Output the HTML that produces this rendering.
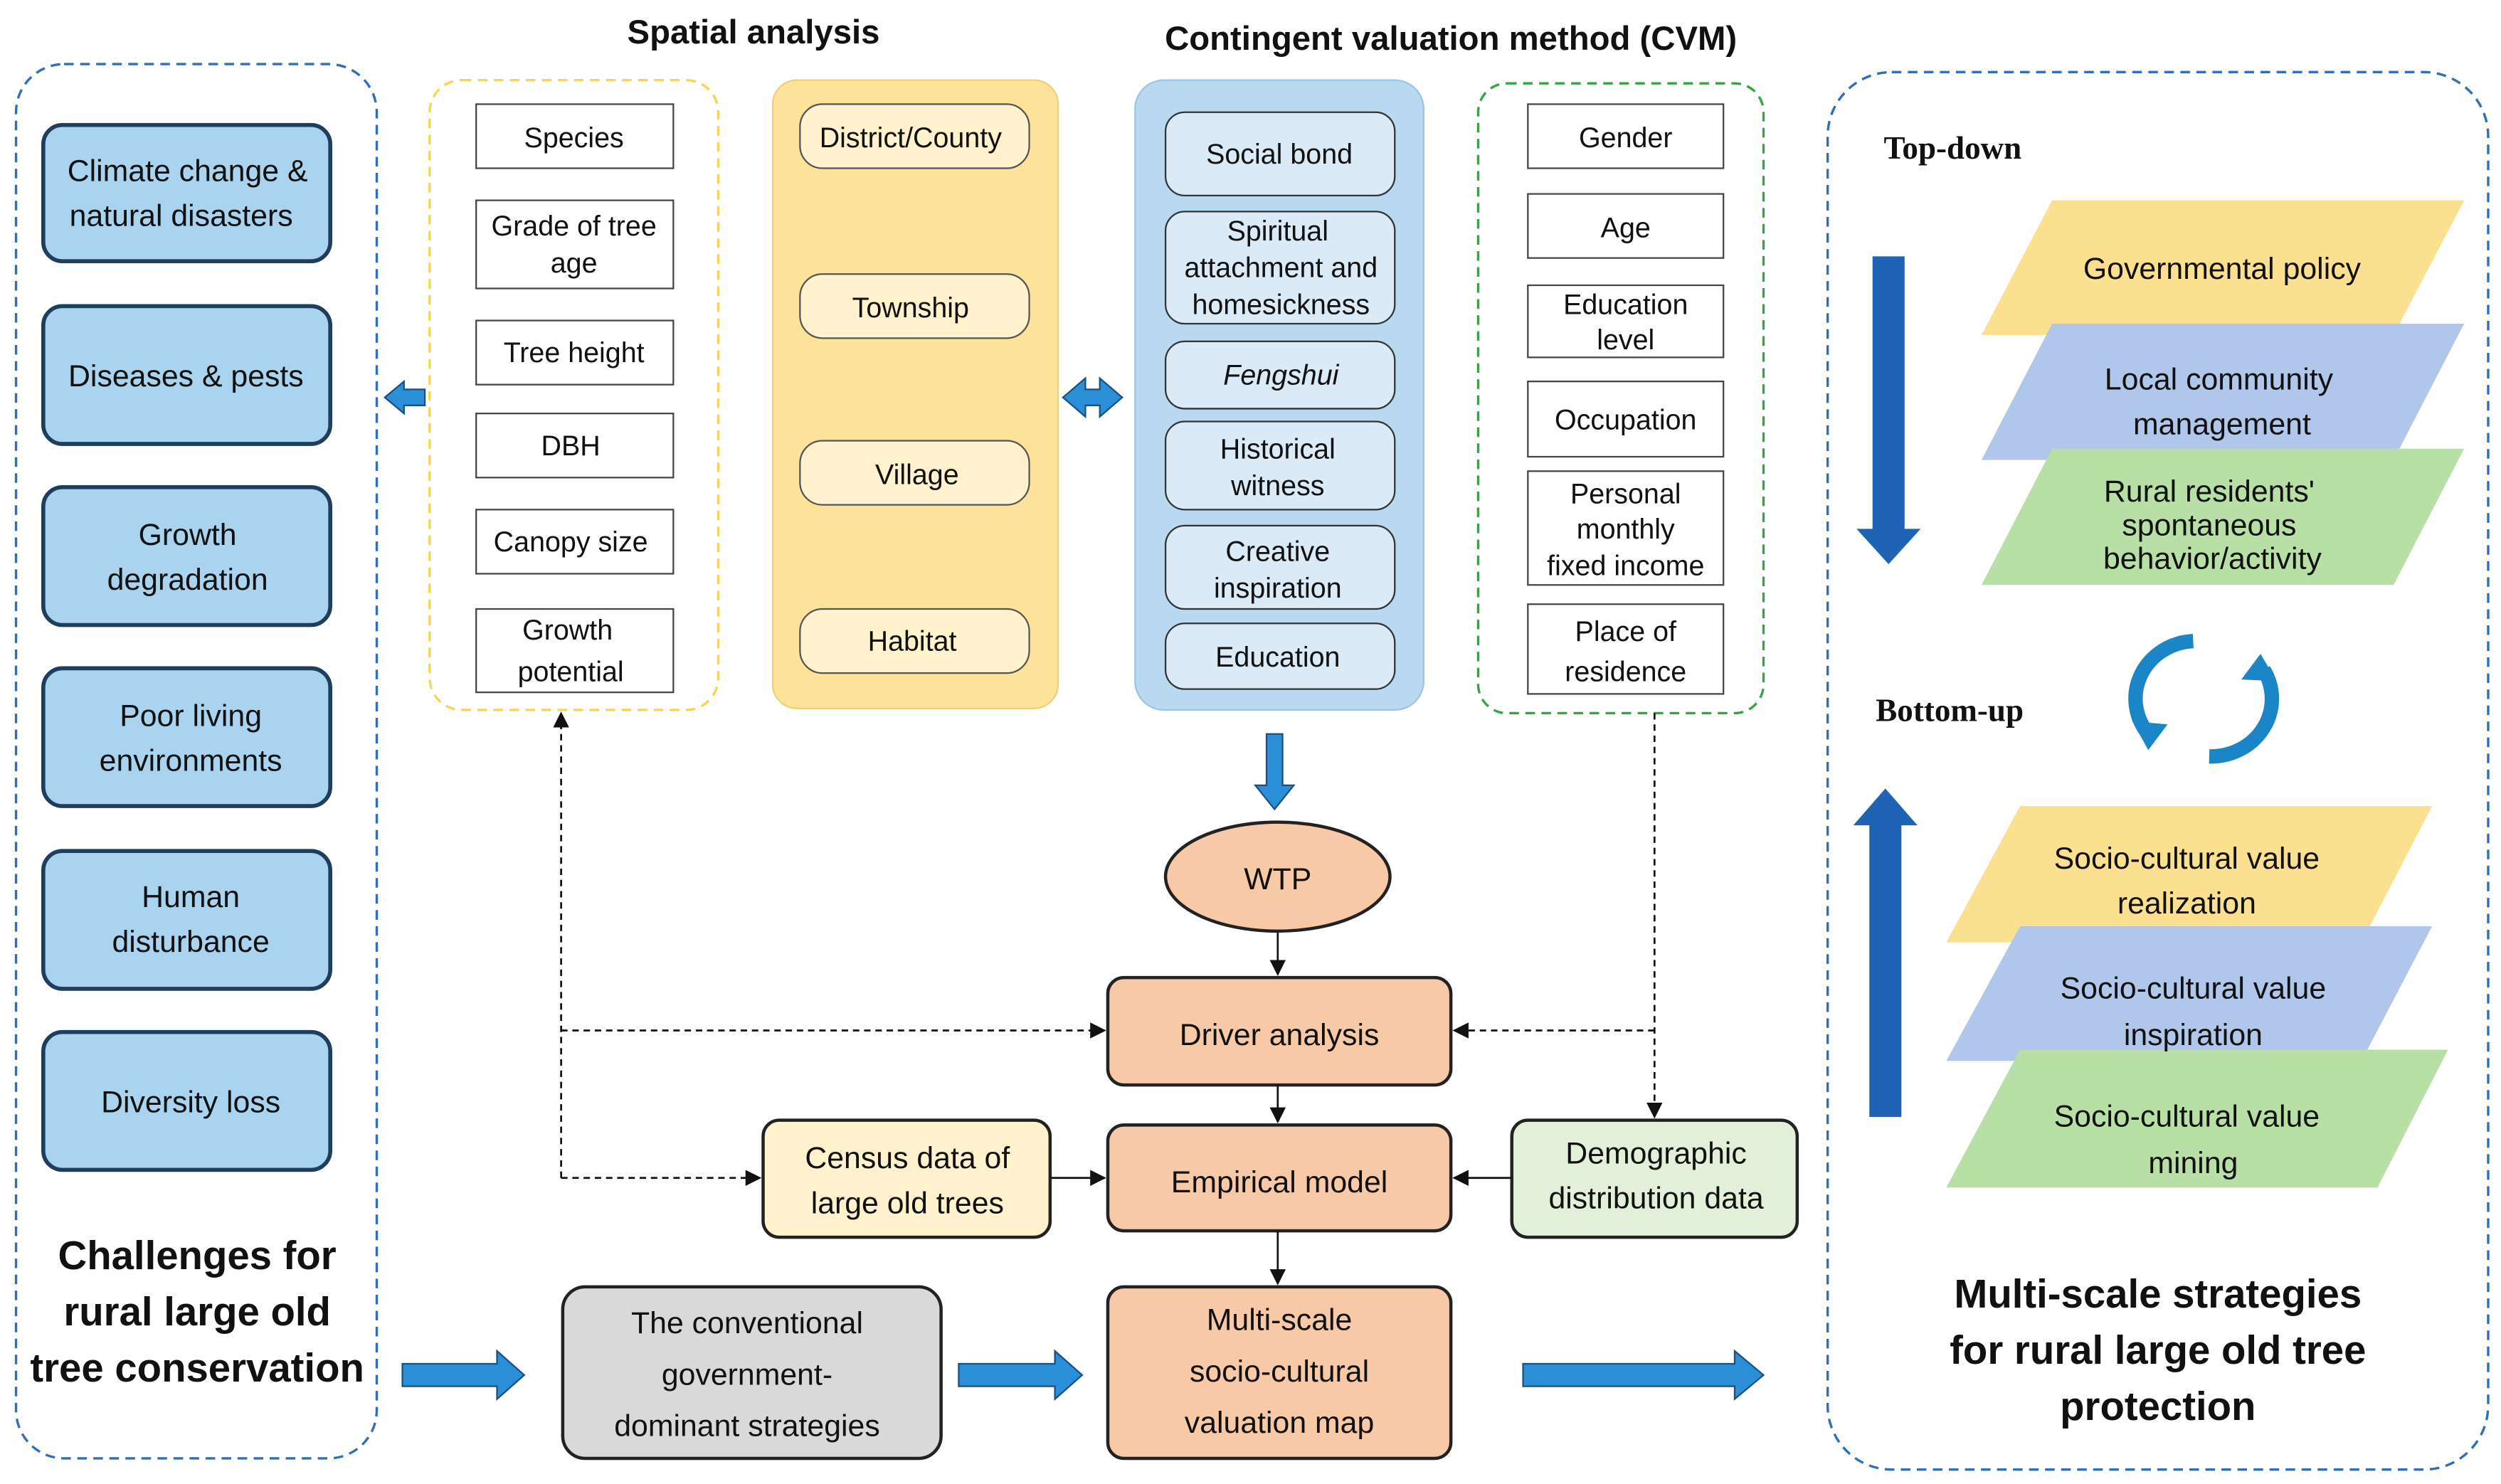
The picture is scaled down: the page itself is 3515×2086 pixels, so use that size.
<!DOCTYPE html>
<html><head><meta charset="utf-8"><style>
html,body{margin:0;padding:0;background:#fff;}
svg{display:block;}
text{font-family:"Liberation Sans",sans-serif;fill:#111;}
.t{font-size:19px;text-anchor:middle;}
.s{font-size:17.5px;text-anchor:middle;}
.b{font-weight:bold;text-anchor:middle;}
</style></head><body>
<svg width="3515" height="2086" viewBox="0 0 1560 926" preserveAspectRatio="none" xmlns="http://www.w3.org/2000/svg">
<defs>
<marker id="ah" markerWidth="10" markerHeight="10" refX="9" refY="5" orient="auto" markerUnits="userSpaceOnUse"><path d="M0,0 L10,5 L0,10 z" fill="#111"/></marker>
</defs>
<!-- left -->
<rect x="10" y="40" width="225" height="870" rx="30" fill="none" stroke="#2f6fba" stroke-width="1.5" stroke-dasharray="6,4"/>
<g fill="#a9d3ee" stroke="#1f3d5c" stroke-width="2.5">
<rect x="27" y="78" width="179" height="85" rx="12"/>
<rect x="27" y="191" width="179" height="86" rx="12"/>
<rect x="27" y="304" width="179" height="86" rx="12"/>
<rect x="27" y="417" width="179" height="86" rx="12"/>
<rect x="27" y="531" width="179" height="86" rx="12"/>
<rect x="27" y="644" width="179" height="86" rx="12"/>
</g>
<text class="t" font-size="20"><tspan x="117" y="113">Climate change &amp;</tspan><tspan x="113" y="141">natural disasters</tspan></text>
<text class="t" x="116" y="241">Diseases &amp; pests</text>
<text class="t"><tspan x="117" y="340">Growth</tspan><tspan x="117" y="368">degradation</tspan></text>
<text class="t"><tspan x="119" y="453">Poor living</tspan><tspan x="119" y="481">environments</tspan></text>
<text class="t"><tspan x="119" y="566">Human</tspan><tspan x="119" y="594">disturbance</tspan></text>
<text class="t" x="119" y="694">Diversity loss</text>
<text class="b" font-size="25"><tspan x="123" y="792">Challenges for</tspan><tspan x="123" y="827">rural large old</tspan><tspan x="123" y="862">tree conservation</tspan></text>
<path d="M240,248 L252,238 L252,243 L265,243 L265,253 L252,253 L252,258 z" fill="#2a8fd6" stroke="#1b4f80"/>
<!-- spatial -->
<text class="b" x="470" y="27" font-size="21">Spatial analysis</text>
<rect x="268" y="50" width="180" height="393" rx="20" fill="none" stroke="#f5d45a" stroke-width="1.5" stroke-dasharray="6,4"/>
<g fill="#fff" stroke="#444" stroke-width="1">
<rect x="297" y="65" width="123" height="40"/><rect x="297" y="125" width="123" height="55"/>
<rect x="297" y="200" width="123" height="40"/><rect x="297" y="258" width="123" height="40"/>
<rect x="297" y="318" width="123" height="40"/><rect x="297" y="380" width="123" height="52"/>
</g>
<text class="s" x="358" y="92">Species</text>
<text class="s"><tspan x="358" y="147">Grade of tree</tspan><tspan x="358" y="170">age</tspan></text>
<text class="s" x="358" y="226">Tree height</text>
<text class="s" x="356" y="284">DBH</text>
<text class="s" x="356" y="344">Canopy size</text>
<text class="s"><tspan x="354" y="399">Growth</tspan><tspan x="356" y="425">potential</tspan></text>
<rect x="482" y="50" width="178" height="392" rx="15" fill="#fde29a" stroke="#f0cf7a"/>
<g fill="#fff2cc" stroke="#555">
<rect x="499" y="65" width="143" height="40" rx="14"/><rect x="499" y="171" width="143" height="40" rx="14"/>
<rect x="499" y="275" width="143" height="40" rx="14"/><rect x="499" y="380" width="143" height="40" rx="14"/>
</g>
<text class="s" x="568" y="92">District/County</text>
<text class="s" x="568" y="198">Township</text>
<text class="s" x="572" y="302">Village</text>
<text class="s" x="569" y="406">Habitat</text>
<path d="M663,248 L677,236 L677,243 L686,243 L686,236 L700,248 L686,260 L686,253 L677,253 L677,260 z" fill="#2a8fd6" stroke="#1b4f80"/>
<!-- CVM -->
<text class="b" x="905" y="31" font-size="21">Contingent valuation method (CVM)</text>
<rect x="708" y="50" width="180" height="393" rx="18" fill="#b9d9f1" stroke="#9cc4e4"/>
<g fill="#dbeaf7" stroke="#333">
<rect x="727" y="70" width="143" height="52" rx="12"/><rect x="727" y="132" width="143" height="70" rx="12"/>
<rect x="727" y="213" width="143" height="42" rx="12"/><rect x="727" y="263" width="143" height="55" rx="12"/>
<rect x="727" y="328" width="143" height="52" rx="12"/><rect x="727" y="389" width="143" height="41" rx="12"/>
</g>
<text class="s" x="798" y="102">Social bond</text>
<text class="s"><tspan x="797" y="150">Spiritual</tspan><tspan x="799" y="173">attachment and</tspan><tspan x="799" y="196">homesickness</tspan></text>
<text class="s" x="799" y="240" font-style="italic">Fengshui</text>
<text class="s"><tspan x="797" y="286">Historical</tspan><tspan x="797" y="309">witness</tspan></text>
<text class="s"><tspan x="797" y="350">Creative</tspan><tspan x="797" y="373">inspiration</tspan></text>
<text class="s" x="797" y="416">Education</text>
<rect x="922" y="52" width="178" height="393" rx="18" fill="none" stroke="#3aa34a" stroke-width="1.5" stroke-dasharray="6,4"/>
<g fill="#fff" stroke="#444">
<rect x="953" y="65" width="122" height="40"/><rect x="953" y="121" width="122" height="40"/>
<rect x="953" y="178" width="122" height="45"/><rect x="953" y="238" width="122" height="47"/>
<rect x="953" y="294" width="122" height="71"/><rect x="953" y="377" width="122" height="56"/>
</g>
<text class="s" x="1014" y="92">Gender</text>
<text class="s" x="1014" y="148">Age</text>
<text class="s"><tspan x="1014" y="196">Education</tspan><tspan x="1014" y="218">level</tspan></text>
<text class="s" x="1014" y="268">Occupation</text>
<text class="s"><tspan x="1014" y="314">Personal</tspan><tspan x="1014" y="336">monthly</tspan><tspan x="1014" y="359">fixed income</tspan></text>
<text class="s"><tspan x="1014" y="400">Place of</tspan><tspan x="1014" y="425">residence</tspan></text>
<!-- center flow -->
<path d="M790,458 L800,458 L800,490 L807,490 L795,505 L783,490 L790,490 z" fill="#2a8fd6" stroke="#1b4f80"/>
<ellipse cx="797" cy="547" rx="70" ry="34" fill="#f8c9a7" stroke="#222" stroke-width="2"/>
<text class="t" x="797" y="555" font-size="21">WTP</text>
<g fill="#f8c9a7" stroke="#222" stroke-width="2">
<rect x="691" y="610" width="214" height="67" rx="10"/>
<rect x="691" y="702" width="214" height="66" rx="10"/>
<rect x="691" y="803" width="214" height="107" rx="10"/>
</g>
<text class="t" x="798" y="652" font-size="21">Driver analysis</text>
<text class="t" x="798" y="744" font-size="21">Empirical model</text>
<text class="t" font-size="21"><tspan x="798" y="830">Multi-scale</tspan><tspan x="798" y="862">socio-cultural</tspan><tspan x="798" y="894">valuation map</tspan></text>
<rect x="476" y="699" width="179" height="73" rx="10" fill="#fff2cc" stroke="#222" stroke-width="2"/>
<text class="t"><tspan x="566" y="729">Census data of</tspan><tspan x="566" y="757">large old trees</tspan></text>
<rect x="943" y="699" width="178" height="73" rx="10" fill="#e2f0d9" stroke="#222" stroke-width="2"/>
<text class="t"><tspan x="1033" y="726">Demographic</tspan><tspan x="1033" y="754">distribution data</tspan></text>
<rect x="351" y="803" width="236" height="107" rx="14" fill="#d9d9d9" stroke="#222" stroke-width="2"/>
<text class="t" font-size="21"><tspan x="466" y="832">The conventional</tspan><tspan x="466" y="864">government-</tspan><tspan x="466" y="896">dominant strategies</tspan></text>
<g stroke="#111" stroke-width="1.2" fill="none">
<line x1="797" y1="582" x2="797" y2="608" marker-end="url(#ah)"/>
<line x1="797" y1="677" x2="797" y2="700" marker-end="url(#ah)"/>
<line x1="797" y1="768" x2="797" y2="801" marker-end="url(#ah)"/>
<line x1="655" y1="735" x2="689" y2="735" marker-end="url(#ah)"/>
<line x1="943" y1="735" x2="907" y2="735" marker-end="url(#ah)"/>
<g stroke-dasharray="4,3">
<line x1="350" y1="735" x2="350" y2="445" marker-end="url(#ah)"/>
<line x1="350" y1="735" x2="474" y2="735" marker-end="url(#ah)"/>
<line x1="350" y1="643" x2="689" y2="643" marker-end="url(#ah)"/>
<line x1="1032" y1="445" x2="1032" y2="697" marker-end="url(#ah)"/>
<line x1="1032" y1="643" x2="907" y2="643" marker-end="url(#ah)"/>
</g></g>
<g fill="#2a8fd6" stroke="#1b4f80">
<path d="M251,851 L310,851 L310,843 L327,858 L310,873 L310,865 L251,865 z"/>
<path d="M598,851 L658,851 L658,843 L675,858 L658,873 L658,865 L598,865 z"/>
<path d="M950,851 L1082,851 L1082,843 L1100,858 L1082,873 L1082,865 L950,865 z"/>
</g>
<!-- right -->
<rect x="1140" y="45" width="412" height="872" rx="40" fill="none" stroke="#2f6fba" stroke-width="1.5" stroke-dasharray="6,4"/>
<text x="1175" y="99" style="font-family:'Liberation Serif',serif;font-weight:bold;font-size:20px">Top-down</text>
<text x="1170" y="450" style="font-family:'Liberation Serif',serif;font-weight:bold;font-size:20px">Bottom-up</text>
<path d="M1168,160 L1188,160 L1188,330 L1198,330 L1178,352 L1158,330 L1168,330 z" fill="#1f63b5"/>
<path d="M1166,697 L1186,697 L1186,515 L1196,515 L1176,492 L1156,515 L1166,515 z" fill="#1f63b5"/>
<g fill="none" stroke="#1a86c8" stroke-width="9">
<path d="M1368,400 A38,36 0 0 0 1340,458"/>
<path d="M1378,472 A38,36 0 0 0 1412,418"/>
</g>
<path d="M1330,450 L1352,452 L1340,468 z" fill="#1a86c8"/><path d="M1420,425 L1398,424 L1410,408 z" fill="#1a86c8"/>
<polygon points="1280,125 1537,125 1493,209 1236,209" fill="#fbe08f"/>
<polygon points="1280,202 1537,202 1493,287 1236,287" fill="#b0c6ea"/>
<polygon points="1280,280 1537,280 1493,365 1236,365" fill="#b8e0a6"/>
<text class="t" x="1386" y="174">Governmental policy</text>
<text class="t"><tspan x="1384" y="243">Local community</tspan><tspan x="1386" y="271">management</tspan></text>
<text class="t"><tspan x="1378" y="313">Rural residents'</tspan><tspan x="1378" y="334">spontaneous</tspan><tspan x="1380" y="355">behavior/activity</tspan></text>
<polygon points="1260,503 1517,503 1473,588 1214,588" fill="#fbe08f"/>
<polygon points="1260,578 1517,578 1473,662 1214,662" fill="#b0c6ea"/>
<polygon points="1260,655 1527,655 1483,741 1214,741" fill="#b8e0a6"/>
<text class="t"><tspan x="1364" y="542">Socio-cultural value</tspan><tspan x="1364" y="570">realization</tspan></text>
<text class="t"><tspan x="1368" y="623">Socio-cultural value</tspan><tspan x="1368" y="652">inspiration</tspan></text>
<text class="t"><tspan x="1364" y="703">Socio-cultural value</tspan><tspan x="1368" y="732">mining</tspan></text>
<text class="b" font-size="25"><tspan x="1346" y="816">Multi-scale strategies</tspan><tspan x="1346" y="851">for rural large old tree</tspan><tspan x="1346" y="886">protection</tspan></text>
</svg>
</body></html>
